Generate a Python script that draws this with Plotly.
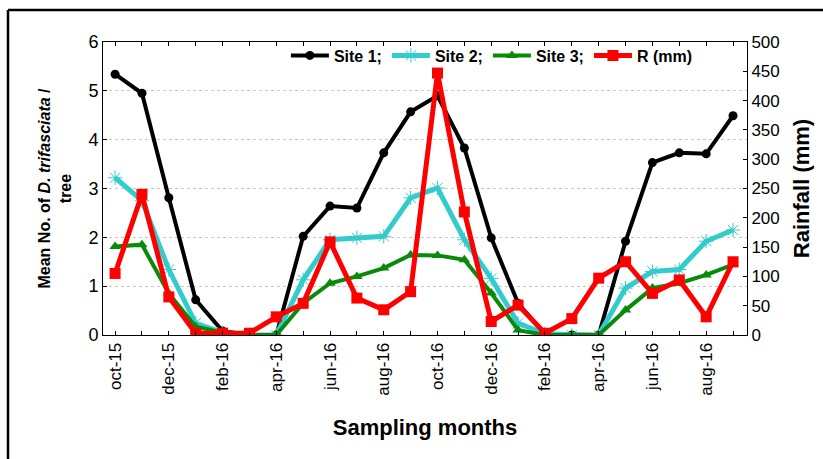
import plotly.graph_objects as go

tick_labels = ["oct-15", "dec-15", "feb-16", "apr-16", "jun-16", "aug-16",
               "oct-16", "dec-16", "feb-16", "apr-16", "jun-16", "aug-16"]

site1 = [5.34, 4.95, 2.81, 0.72, 0.08, 0.0, 0.0, 2.02, 2.64, 2.60, 3.73, 4.57,
         4.90, 3.83, 1.99, 0.65, 0.02, 0.0, 0.0, 1.92, 3.53, 3.73, 3.71, 4.49]
site2 = [3.22, 2.75, 1.34, 0.24, 0.05, 0.0, 0.0, 1.13, 1.95, 1.99, 2.02, 2.81,
         3.01, 1.95, 1.16, 0.24, 0.03, 0.0, 0.0, 0.96, 1.30, 1.34, 1.92, 2.15]
site3 = [1.81, 1.85, 0.85, 0.17, 0.05, 0.0, 0.0, 0.65, 1.06, 1.20, 1.37, 1.64,
         1.63, 1.54, 0.86, 0.10, 0.0, 0.0, 0.0, 0.51, 0.96, 1.06, 1.23, 1.44]
rain = [105, 240, 65, 3, 3, 3, 31, 54, 159, 63, 43, 74,
        447, 210, 23, 51, 3, 28, 97, 125, 71, 94, 31, 125]

months = list(range(len(site1)))
tickvals = months
ticktext = []
for lab in tick_labels:
    ticktext += [lab, ""]

FONT = "Liberation Sans, Arial, sans-serif"

fig = go.Figure()
fig.add_trace(go.Scatter(x=months, y=site1, name="Site 1;", mode="lines+markers",
                         line=dict(color="black", width=4),
                         marker=dict(symbol="circle", size=9, color="black")))
fig.add_trace(go.Scatter(x=months, y=site2, name="Site 2;", mode="lines+markers",
                         line=dict(color="#33cccc", width=5),
                         marker=dict(symbol="asterisk-open", size=12, color="#33cccc",
                                     line=dict(color="#33cccc", width=1))))
fig.add_trace(go.Scatter(x=months, y=site3, name="Site 3;", mode="lines+markers",
                         line=dict(color="#0a8a0a", width=4),
                         marker=dict(symbol="triangle-up", size=10, color="#0a8a0a")))
fig.add_trace(go.Scatter(x=months, y=rain, name="R (mm)", mode="lines+markers", yaxis="y2",
                         line=dict(color="#ff0000", width=5),
                         marker=dict(symbol="square", size=11, color="#ff0000")))

fig.update_layout(
    width=823, height=459,
    margin=dict(l=103, r=76, t=42, b=124, autoexpand=False),
    paper_bgcolor="white", plot_bgcolor="white",
    font=dict(family=FONT, color="black"),
    showlegend=True,
    legend=dict(orientation="h", x=0.284, y=1.012, xanchor="left", yanchor="top",
                bgcolor="rgba(0,0,0,0)", font=dict(size=16, family=FONT, color="black", weight="bold"),
                itemwidth=38, tracegroupgap=0),
    xaxis=dict(range=[-0.45, 23.52], tickmode="array", tickvals=tickvals, ticktext=ticktext,
               tickangle=-90, ticks="inside", ticklen=4, tickcolor="black", automargin=False,
               showline=True, linecolor="black", linewidth=1, mirror="ticks",
               showgrid=False, zeroline=False, tickfont=dict(size=17, family=FONT),
               title=dict(text="<b>Sampling months</b>", font=dict(size=22, family=FONT), standoff=24)),
    yaxis=dict(range=[0, 6], dtick=1, ticks="inside", ticklen=4, tickcolor="black", automargin=False,
               showline=True, linecolor="black", linewidth=1,
               showgrid=True, gridcolor="#c8c8c8", griddash="dot", gridwidth=1, zeroline=False,
               tickfont=dict(size=18, family=FONT),
               title=dict(text="<b>Mean No. of <i>D. trifasciata</i> /<br>tree</b>",
                          font=dict(size=16, family=FONT), standoff=12)),
    yaxis2=dict(range=[0, 500], dtick=50, overlaying="y", side="right", automargin=False,
                ticks="inside", ticklen=4, tickcolor="black",
                showline=True, linecolor="black", linewidth=1,
                showgrid=False, zeroline=False, tickfont=dict(size=17, family=FONT),
                title=dict(text="<b>Rainfall (mm)</b>", font=dict(size=22, family=FONT), standoff=14)),
)

# outer frame (left and top edges)
fig.add_shape(type="line", xref="paper", yref="paper", x0=-0.1475, x1=1.2, y0=1.109, y1=1.109,
              line=dict(color="black", width=2.5))
fig.add_shape(type="line", xref="paper", yref="paper", x0=-0.1475, x1=-0.1475, y0=1.109, y1=-0.45,
              line=dict(color="black", width=2.5))

fig.write_html("out.html", config={"displayModeBar": False},
               post_script="document.body.style.margin='0px';")
